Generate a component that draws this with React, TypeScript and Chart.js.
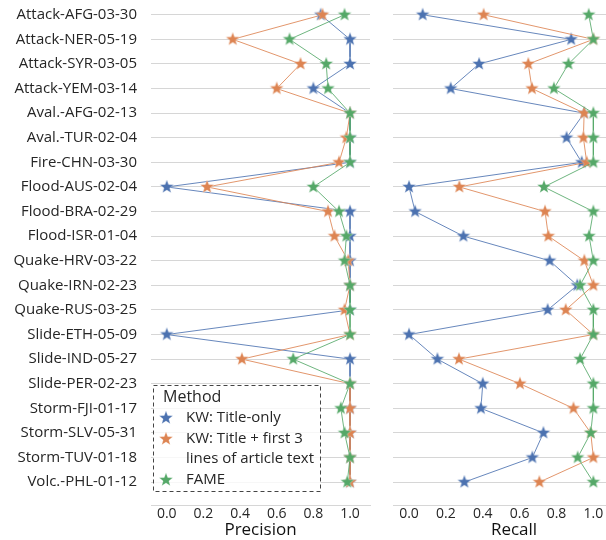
import React, { useEffect, useRef } from 'react';
import { Chart, registerables } from 'chart.js';
Chart.register(...registerables);

const categories = [
  'Attack-AFG-03-30', 'Attack-NER-05-19', 'Attack-SYR-03-05', 'Attack-YEM-03-14',
  'Aval.-AFG-02-13', 'Aval.-TUR-02-04', 'Fire-CHN-03-30', 'Flood-AUS-02-04',
  'Flood-BRA-02-29', 'Flood-ISR-01-04', 'Quake-HRV-03-22', 'Quake-IRN-02-23',
  'Quake-RUS-03-25', 'Slide-ETH-05-09', 'Slide-IND-05-27', 'Slide-PER-02-23',
  'Storm-FJI-01-17', 'Storm-SLV-05-31', 'Storm-TUV-01-18', 'Volc.-PHL-01-12',
];

const seriesNames = ['KW: Title-only', 'KW: Title + first 3 lines of article text', 'FAME'];
const legendLines = [['KW: Title-only'], ['KW: Title + first 3', 'lines of article text'], ['FAME']];
const legendTitle = 'Method';

const precisionTitleOnly = [0.84, 1, 1, 0.80, 1, 1, 1, 0, 1, 1, 1, 1, 1, 0, 1, 1, 1, 1, 1, 1];
const precisionTitleText = [0.85, 0.36, 0.73, 0.60, 1, 0.98, 0.94, 0.22, 0.88, 0.915, 0.99, 1, 0.97, 1, 0.41, 1, 1, 1, 1, 1];
const precisionFame = [0.97, 0.67, 0.87, 0.88, 1, 1, 1, 0.80, 0.94, 0.98, 0.97, 1, 1, 1, 0.69, 1, 0.95, 0.97, 1, 0.985];

const recallTitleOnly = [0.074, 0.88, 0.38, 0.226, 0.95, 0.855, 0.937, 0.0, 0.033, 0.295, 0.763, 0.913, 0.752, 0.0, 0.154, 0.40, 0.39, 0.729, 0.669, 0.30];
const recallTitleText = [0.405, 1.0, 0.647, 0.667, 0.95, 0.946, 0.964, 0.273, 0.738, 0.756, 0.951, 1.0, 0.85, 1.0, 0.271, 0.602, 0.892, 0.986, 1.0, 0.707];
const recallFame = [0.975, 1.0, 0.865, 0.786, 1.0, 1.0, 1.0, 0.732, 1.0, 0.977, 1.0, 0.928, 1.0, 1.0, 0.928, 1.0, 1.0, 0.986, 0.915, 1.0];

const xTicks = [0, 0.2, 0.4, 0.6, 0.8, 1.0];

const COLORS = ['#4C72B0', '#DD8452', '#55A868'];
const LINE_COLORS = ['rgba(76,114,176,0.85)', 'rgba(221,132,82,0.85)', 'rgba(85,168,104,0.85)'];
const FONT = '"Open Sans", "Noto Sans", sans-serif';
const GRID = '#d6d6d6';
const TEXT = '#262626';

function drawStar(ctx: CanvasRenderingContext2D, cx: number, cy: number, R: number, color: string) {
  const r = R * 0.42;
  ctx.beginPath();
  for (let i = 0; i < 10; i++) {
    const ang = -Math.PI / 2 + (i * Math.PI) / 5;
    const rad = i % 2 === 0 ? R : r;
    const px = cx + rad * Math.cos(ang);
    const py = cy + rad * Math.sin(ang);
    if (i === 0) ctx.moveTo(px, py);
    else ctx.lineTo(px, py);
  }
  ctx.closePath();
  ctx.fillStyle = color;
  ctx.fill();
  ctx.strokeStyle = 'rgba(255,255,255,0.5)';
  ctx.lineWidth = 0.6;
  ctx.stroke();
}

function makeStar(color: string, R = 7.2) {
  const size = 20;
  const c = document.createElement('canvas');
  c.width = size;
  c.height = size;
  const ctx = c.getContext('2d')!;
  drawStar(ctx, size / 2, size / 2, R, color);
  return c;
}

function buildDatasets(arrays: number[][], stars: HTMLCanvasElement[]) {
  return arrays.map((vals, k) => ({
    label: seriesNames[k],
    data: vals.map((v, i) => ({ x: v, y: i })),
    showLine: true,
    borderColor: LINE_COLORS[k],
    backgroundColor: COLORS[k],
    borderWidth: 1,
    pointStyle: stars[k] as any,
    pointRadius: 7,
    pointHoverRadius: 7,
    order: 2 - k,
    clip: false as any,
  }));
}

const legendPlugin = {
  id: 'methodLegend',
  afterDraw(chart: any) {
    const ctx = chart.ctx as CanvasRenderingContext2D;
    ctx.save();
    const bx = 153.5, by = 385.5, bw = 167, bh = 106;
    ctx.fillStyle = 'rgba(255,255,255,0.8)';
    ctx.fillRect(bx, by, bw, bh);
    ctx.setLineDash([4, 3]);
    ctx.strokeStyle = '#444';
    ctx.lineWidth = 1;
    ctx.strokeRect(bx, by, bw, bh);
    ctx.setLineDash([]);
    ctx.fillStyle = TEXT;
    ctx.textBaseline = 'middle';
    ctx.textAlign = 'left';
    ctx.font = `16px ${FONT}`;
    ctx.fillText(legendTitle, 163, 397);
    ctx.font = `15px ${FONT}`;
    const ys = [418, 439, 480];
    legendLines.forEach((lines, k) => {
      drawStar(ctx, 166, ys[k], 7.2, COLORS[k]);
      ctx.fillStyle = TEXT;
      lines.forEach((t, j) => ctx.fillText(t, 186, ys[k] + j * 20));
    });
    ctx.restore();
  },
};

function makeOptions(title: string, xMin: number, xMax: number, showY: boolean, padLeft: number, padRight: number) {
  return {
    animation: false as const,
    responsive: false,
    maintainAspectRatio: false,
    events: [] as any[],
    layout: { autoPadding: false, padding: { left: padLeft, right: padRight, top: 0, bottom: 0 } },
    plugins: { legend: { display: false }, tooltip: { enabled: false } },
    scales: {
      x: {
        type: 'linear' as const,
        min: xMin,
        max: xMax,
        afterBuildTicks: (s: any) => { s.ticks = xTicks.map((v) => ({ value: v })); },
        afterFit: (s: any) => { s.height = 35; s.paddingLeft = 0; s.paddingRight = 0; },
        grid: { display: false, drawTicks: false },
        border: { display: true, color: GRID, width: 1 },
        ticks: {
          padding: 1,
          color: TEXT,
          font: { family: FONT, size: 14 },
          callback: (v: any) => Number(v).toFixed(1),
          maxRotation: 0,
        },
        title: {
          display: true,
          text: title,
          color: '#111',
          font: { family: FONT, size: 17, lineHeight: 1.2 },
          padding: { top: 0, bottom: 0 },
        },
      },
      y: {
        type: 'linear' as const,
        reverse: true,
        min: -0.6,
        max: 19.93,
        afterBuildTicks: (s: any) => { s.ticks = categories.map((_, i) => ({ value: i })); },
        afterFit: (s: any) => { s.width = showY ? 151 : 0; s.paddingTop = 0; s.paddingBottom = 0; },
        grid: { display: true, drawTicks: false, color: GRID, lineWidth: 1 },
        border: { display: false },
        ticks: {
          display: showY,
          padding: 14,
          color: TEXT,
          font: { family: FONT, size: 15 },
          callback: (v: any) => categories[Math.round(Number(v))] ?? '',
          autoSkip: false,
        },
      },
    },
  };
}

export default function App() {
  const leftRef = useRef<HTMLCanvasElement>(null);
  const rightRef = useRef<HTMLCanvasElement>(null);

  useEffect(() => {
    const stars = COLORS.map((c) => makeStar(c));
    const left = new Chart(leftRef.current!, {
      type: 'scatter',
      data: { datasets: buildDatasets([precisionTitleOnly, precisionTitleText, precisionFame], stars) as any },
      options: makeOptions('Precision', -0.086, 1.109, true, 0, 10) as any,
      plugins: [legendPlugin],
    });
    const right = new Chart(rightRef.current!, {
      type: 'scatter',
      data: { datasets: buildDatasets([recallTitleOnly, recallTitleText, recallFame], stars) as any },
      options: makeOptions('Recall', -0.087, 1.226, false, 13, 5) as any,
    });
    return () => {
      left.destroy();
      right.destroy();
    };
  }, []);

  return (
    <div style={{ position: 'absolute', left: 0, top: 0, width: 606, height: 540, overflow: 'hidden', background: '#fff' }}>
      <canvas ref={leftRef} width={380} height={540} style={{ position: 'absolute', left: 0, top: 0, width: 380, height: 540 }} />
      <canvas ref={rightRef} width={260} height={540} style={{ position: 'absolute', left: 380, top: 0, width: 260, height: 540 }} />
    </div>
  );
}
